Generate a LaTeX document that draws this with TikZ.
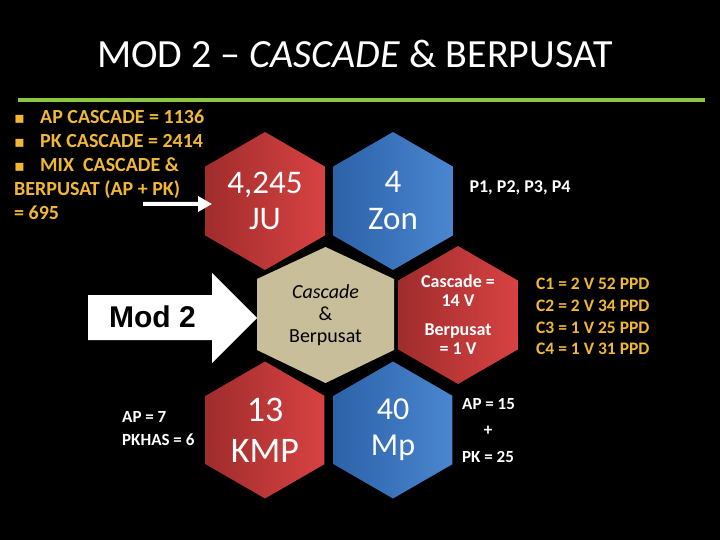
\documentclass[tikz,border=0pt]{standalone}
\usepackage{fontspec}
\setmainfont{Carlito}
\newfontfamily\arialfont{Liberation Sans}
\newfontfamily\dejavu{DejaVu Sans}
\usetikzlibrary{shapes.geometric,arrows.meta}
\definecolor{hred}{RGB}{216,66,66}
\definecolor{hredd}{RGB}{160,44,44}
\definecolor{hblue}{RGB}{74,134,208}
\definecolor{hblued}{RGB}{44,98,168}
\definecolor{hbeige}{RGB}{200,190,154}
\definecolor{hgold}{RGB}{242,184,52}
\definecolor{hgreen}{RGB}{140,198,63}
\tikzset{
  cell/.style={regular polygon,regular polygon sides=6,shape border rotate=30,
    minimum size=138pt,inner sep=0pt,text=white,align=center},
  redcell/.style={cell,left color=hredd,right color=hred},
  bluecell/.style={cell,left color=hblued,right color=hblue},
  gold/.style={text=hgold,font=\fontsize{20}{24}\selectfont\bfseries,anchor=base west,inner sep=0pt},
  cline/.style={text=hgold,font=\fontsize{17.5}{20}\selectfont\bfseries,anchor=base west,inner sep=0pt},
  note/.style={text=white,font=\fontsize{17}{20}\selectfont\bfseries,anchor=base west,inner sep=0pt}
}

\begin{document}
\begin{tikzpicture}[x=1pt,y=-1pt]
  \fill[black] (0,0) rectangle (720,540);
  \useasboundingbox (0,0) rectangle (720,540);
  % title and rule
  \node[text=white,font=\fontsize{40}{44}\selectfont,anchor=base,inner sep=0pt] (title) at (355,68)
    {MOD 2 – \textit{CASCADE} \& BERPUSAT};
  \draw[hgreen,line width=4pt] (18,100) -- (705,100);
  % bullets
  \def\bul{\makebox[26pt][l]{\dejavu\fontsize{16}{16}\selectfont ▪}}
  \node[gold] (b1) at (14,124) {\bul AP CASCADE = 1136};
  \node[gold] (b2) at (14,148) {\bul PK CASCADE = 2414};
  \node[gold] (b3) at (14,172) {\bul MIX\ \ CASCADE \&};
  \node[gold] (b4) at (14,196) {BERPUSAT (AP + PK)};
  \node[gold] (b5) at (14,220) {= 695};
  % hexagons
  \node[redcell,font=\fontsize{33}{36}\selectfont] (ju) at (265,201) {4,245\\JU};
  \node[bluecell,font=\fontsize{33}{37}\selectfont] (zon) at (393,201) {4\\Zon};
  \node[text=white,font=\fontsize{18}{20}\selectfont\bfseries] (pp) at (520,188) {P1, P2, P3, P4};
  \fill[hbeige] (257,279) -- (325.5,247) -- (394,279) -- (394,350) -- (325.5,383) -- (257,350) -- cycle;
  \node[text=black,align=center,font=\fontsize{20}{22}\selectfont] (cb) at (325.5,315)
    {\textit{Cascade}\\\&\\Berpusat};
  \node[redcell,font=\fontsize{18}{19}\selectfont\bfseries] (cv) at (458,315)
    {Cascade =\\14 V\\[10pt]Berpusat\\= 1 V};
  \node[redcell,minimum size=137pt,font=\fontsize{36}{41}\selectfont] (kmp) at (265,430) {13\\KMP};
  \node[bluecell,minimum size=137pt,font=\fontsize{32}{36}\selectfont] (mp) at (393,430) {40\\Mp};
  % side notes
  \node[cline] (c1) at (536,289) {C1 = 2 V 52 PPD};
  \node[cline] (c2) at (536,311) {C2 = 2 V 34 PPD};
  \node[cline] (c3) at (536,333) {C3 = 1 V 25 PPD};
  \node[cline] (c4) at (536,354) {C4 = 1 V 31 PPD};
  \node[note] (ap) at (122,422) {AP = 7};
  \node[note] (pkhas) at (122,445) {PKHAS = 6};
  \node[note] (ap2) at (462,409) {AP = 15};
  \node[note,anchor=center] (plus) at (488,431) {+};
  \node[note] (pk2) at (462,462) {PK = 25};
  % arrows
  \fill[white] (88,295) -- (212,295) -- (212,273) -- (257,318) -- (212,363) -- (212,340) -- (88,340) -- cycle;
  \node[text=black,font=\arialfont\fontsize{30}{30}\selectfont\bfseries,anchor=base,inner sep=0pt] (mod) at (152.5,327) {Mod 2};
  \coordinate (src) at (143,204);
  \draw[white,line width=4pt,-{Triangle[length=14pt,width=15pt]}] (src) -- ([shift={(7,3)}]ju.west);
\end{tikzpicture}
\end{document}
